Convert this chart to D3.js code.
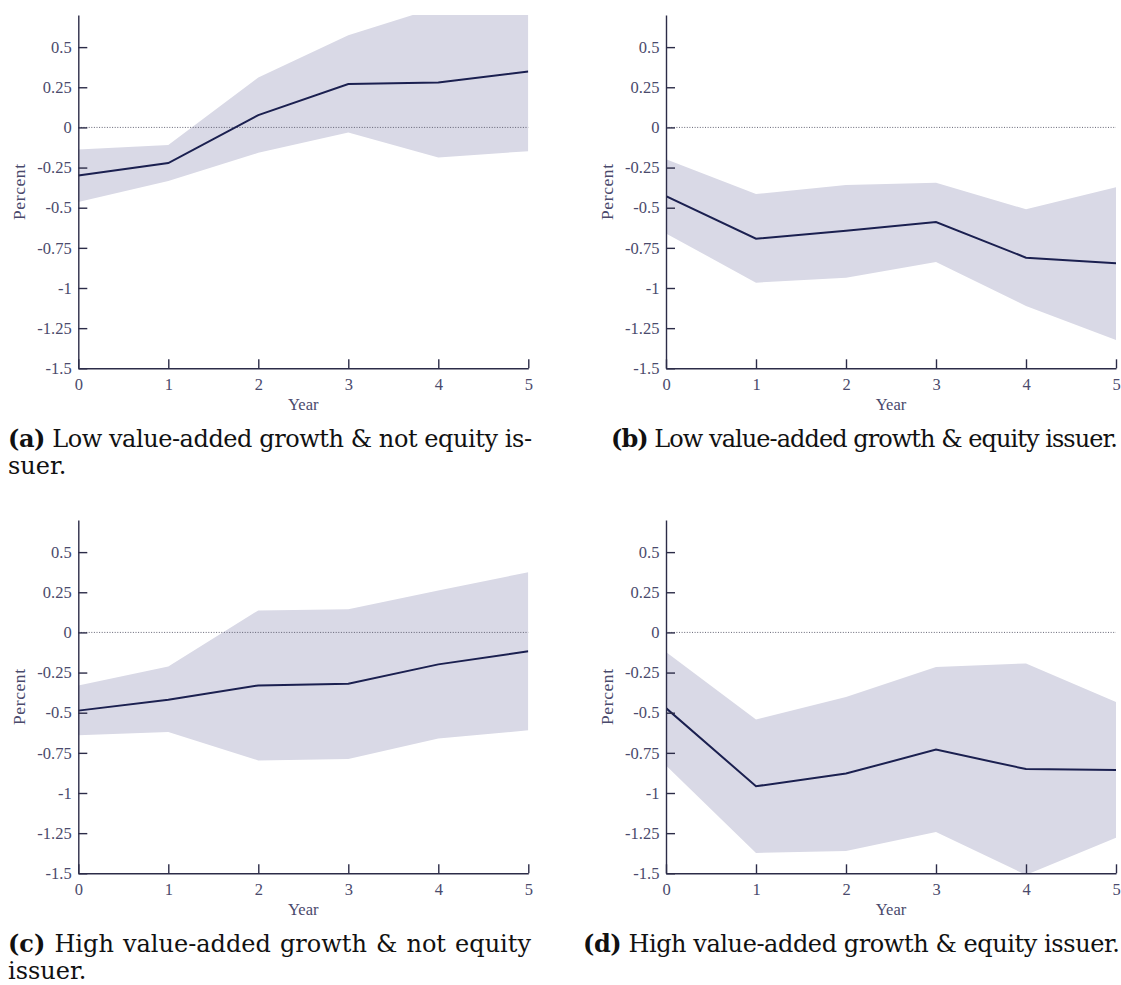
<!DOCTYPE html>
<html>
<head>
<meta charset="utf-8">
<script src="https://cdn.jsdelivr.net/npm/d3@7"></script>
<style>
  html, body { margin: 0; padding: 0; background: #fff; }
  svg { display: block; }
</style>
</head>
<body>
<svg id="chart" width="1121" height="985"></svg>
<script>
// Horizon (years after the shock) and axis ticks
const years = [0, 1, 2, 3, 4, 5];
const yTicks = [-1.5, -1.25, -1, -0.75, -0.5, -0.25, 0, 0.25, 0.5];
const yDomain = [-1.5, 0.7];

// (a) Low value-added growth & not equity issuer
const estA = [-0.30, -0.222, 0.077, 0.27, 0.28, 0.348];
const upA  = [-0.137, -0.11, 0.311, 0.574, 0.75, 0.92];
const loA  = [-0.465, -0.334, -0.158, -0.031, -0.187, -0.148];

// (b) Low value-added growth & equity issuer
const estB = [-0.428, -0.693, -0.643, -0.589, -0.811, -0.846];
const upB  = [-0.199, -0.415, -0.359, -0.345, -0.51, -0.373];
const loB  = [-0.66, -0.967, -0.936, -0.838, -1.112, -1.324];

// (c) High value-added growth & not equity issuer
const estC = [-0.487, -0.419, -0.33, -0.319, -0.199, -0.118];
const upC  = [-0.33, -0.212, 0.137, 0.145, 0.261, 0.375];
const loC  = [-0.641, -0.62, -0.797, -0.788, -0.66, -0.61];

// (d) High value-added growth & equity issuer
const estD = [-0.471, -0.958, -0.879, -0.73, -0.851, -0.857];
const upD  = [-0.122, -0.543, -0.402, -0.216, -0.193, -0.434];
const loD  = [-0.828, -1.373, -1.361, -1.243, -1.51, -1.278];

// Sub-figure captions
const captionTags = ["(a)", "(b)", "(c)", "(d)"];
const captionLines = [
  ["Low value-added growth & not equity is-", "suer."],
  ["Low value-added growth & equity issuer."],
  ["High value-added growth & not equity", "issuer."],
  ["High value-added growth & equity issuer."]
];

const panels = [
  { est: estA, up: upA, lo: loA, left: 78.3, top: 15,  cap: { x: 8,   y: 447, w: 524, justify: false } },
  { est: estB, up: upB, lo: loB, left: 666,  top: 15,  cap: { x: 611, y: 447, w: 507, justify: false } },
  { est: estC, up: upC, lo: loC, left: 78.3, top: 520, cap: { x: 8,   y: 952, w: 523, justify: true } },
  { est: estD, up: upD, lo: loD, left: 666,  top: 520, cap: { x: 583, y: 952, w: 537, justify: false } }
];

const plotW = 450, plotH = 353.3;
const axisColor = "#2c2c48";
const labelColor = "#4a4a6c";
const bandColor = "#d9d9e6";
const lineColor = "#1b2050";
const tickFont = "Liberation Serif";
const capFont = "DejaVu Serif";

const svg = d3.select("#chart");

panels.forEach((p, i) => {
  const g = svg.append("g").attr("transform", `translate(${p.left},${p.top})`);
  const x = d3.scaleLinear().domain([0, 5]).range([0, plotW]);
  const y = d3.scaleLinear().domain(yDomain).range([plotH, 0]);

  const clipId = "clip" + i;
  g.append("clipPath").attr("id", clipId)
    .append("rect").attr("x", 0).attr("y", 0).attr("width", plotW).attr("height", plotH);

  const rows = years.map((yr, k) => ({ yr, est: p.est[k], up: p.up[k], lo: p.lo[k] }));

  // confidence band
  g.append("path")
    .datum(rows)
    .attr("clip-path", `url(#${clipId})`)
    .attr("fill", bandColor)
    .attr("d", d3.area().x(d => x(d.yr)).y0(d => y(d.lo)).y1(d => y(d.up)));

  // zero reference line
  g.append("line")
    .attr("x1", 0).attr("x2", x(5))
    .attr("y1", y(0)).attr("y2", y(0))
    .attr("stroke", "#555566").attr("stroke-width", 0.9)
    .attr("stroke-dasharray", "1,1.6");

  // point estimate
  g.append("path")
    .datum(rows)
    .attr("clip-path", `url(#${clipId})`)
    .attr("fill", "none")
    .attr("stroke", lineColor)
    .attr("stroke-width", 2)
    .attr("d", d3.line().x(d => x(d.yr)).y(d => y(d.est)));

  // axes with inward ticks
  const yAxis = d3.axisLeft(y).tickValues(yTicks).tickFormat(d => String(d))
    .tickSizeInner(-9).tickSizeOuter(0).tickPadding(6.6);
  const xAxis = d3.axisBottom(x).tickValues(years).tickFormat(d => String(d))
    .tickSizeInner(-9).tickSizeOuter(0).tickPadding(9.5);

  const ga = g.append("g").call(yAxis);
  const gb = g.append("g").attr("transform", `translate(0,${plotH})`).call(xAxis);
  [ga, gb].forEach(a => {
    a.attr("font-family", tickFont).attr("font-size", 16.5);
    a.select(".domain").attr("stroke", axisColor).attr("stroke-width", 1.4);
    a.selectAll(".tick line").attr("stroke", axisColor).attr("stroke-width", 1.4);
    a.selectAll(".tick text").attr("fill", labelColor);
  });

  // axis titles
  g.append("text")
    .attr("x", plotW / 2).attr("y", plotH + 41.5)
    .attr("text-anchor", "middle")
    .attr("fill", labelColor)
    .attr("font-family", tickFont).attr("font-size", 16.5)
    .text("Year");

  g.append("text")
    .attr("transform", `translate(-53.5,${plotH / 2}) rotate(-90)`)
    .attr("text-anchor", "middle")
    .attr("fill", labelColor)
    .attr("font-family", tickFont).attr("font-size", 17.5)
    .attr("letter-spacing", 0.6)
    .text("Percent");

  // caption
  const lines = captionLines[i];
  lines.forEach((ln, k) => {
    const t = svg.append("text")
      .attr("x", p.cap.x).attr("y", p.cap.y + k * 27)
      .attr("fill", "#111")
      .attr("font-family", capFont).attr("font-size", 24);
    if (k === 0) {
      t.append("tspan").attr("font-weight", "bold").text(captionTags[i]);
      t.append("tspan").text(" " + ln);
      const natural = t.node().getComputedTextLength();
      if (p.cap.justify) {
        const spaces = (captionTags[i] + " " + ln).split(" ").length - 1;
        t.attr("word-spacing", Math.max(0, (p.cap.w - natural) / spaces));
      } else {
        t.attr("textLength", p.cap.w).attr("lengthAdjust", "spacing");
      }
    } else {
      t.text(ln);
    }
  });
});
</script>
</body>
</html>
